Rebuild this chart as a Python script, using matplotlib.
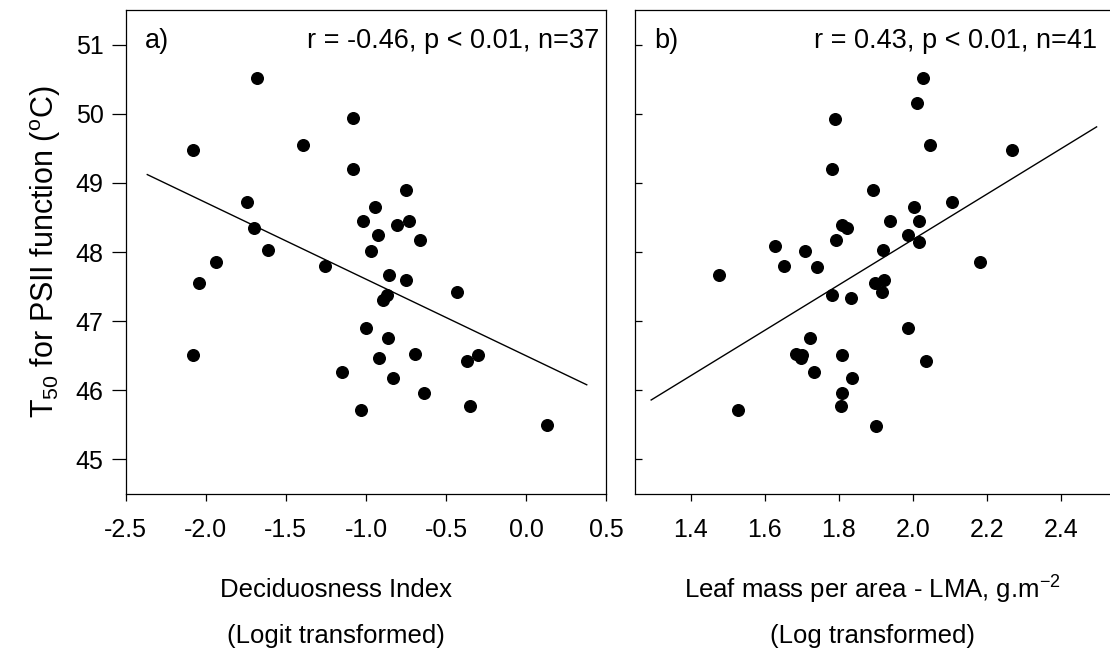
import matplotlib
matplotlib.use("Agg")
import matplotlib.pyplot as plt

plt.rcParams['font.family'] = ['Liberation Sans', 'DejaVu Sans']
plt.rcParams['axes.unicode_minus'] = False
plt.rcParams['mathtext.fontset'] = 'custom'
plt.rcParams['mathtext.rm'] = 'Liberation Sans'
plt.rcParams['mathtext.it'] = 'Liberation Sans'

# T50 for PSII function (deg C), shared by both panels
decid_x = [-1.678, -2.082, -1.083, -1.395, -1.083, -0.750, -1.741, -0.944, -1.017,
           -0.733, -0.806, -1.697, -0.927, -0.661, -1.614, -0.969, -1.934, -1.256,
           -2.042, -0.856, -0.750, -0.434, -0.871, -0.894, -2.082, -1.002, -0.865,
           -0.692, -0.921, -0.301, -0.370, -1.152, -0.831, -0.640, -0.353, -1.033,
           0.130]
decid_t50 = [50.52, 49.48, 49.94, 49.55, 49.20, 48.89, 48.73, 48.65, 48.45,
             48.45, 48.39, 48.35, 48.25, 48.18, 48.03, 48.01, 47.86, 47.80,
             47.55, 47.67, 47.59, 47.42, 47.38, 47.31, 46.51, 46.90, 46.75,
             46.53, 46.47, 46.51, 46.43, 46.26, 46.18, 45.96, 45.77, 45.72,
             45.50]

lma_x = [2.028, 2.012, 1.789, 2.047, 2.267, 1.781, 1.893, 2.105, 2.004, 1.809,
         1.822, 1.939, 2.016, 1.988, 1.792, 2.017, 1.628, 1.709, 1.920, 1.651,
         1.740, 1.477, 2.182, 1.897, 1.922, 1.916, 1.781, 1.834, 1.988, 1.723,
         1.684, 1.702, 1.698, 1.808, 2.036, 1.733, 1.837, 1.808, 1.806, 1.527,
         1.902]
lma_t50 = [50.52, 50.15, 49.93, 49.55, 49.48, 49.20, 48.89, 48.73, 48.65, 48.39,
           48.35, 48.45, 48.45, 48.25, 48.18, 48.15, 48.08, 48.01, 48.03, 47.80,
           47.78, 47.67, 47.86, 47.55, 47.59, 47.42, 47.38, 47.33, 46.90, 46.75,
           46.53, 46.51, 46.47, 46.51, 46.43, 46.26, 46.18, 45.96, 45.77, 45.72,
           45.49]

# regression line end points
decid_fit_x = [-2.365, 0.378]
decid_fit_y = [49.12, 46.08]
lma_fit_x = [1.293, 2.497]
lma_fit_y = [45.86, 49.81]

yticks = [45, 46, 47, 48, 49, 50, 51]
decid_ticks = [-2.5, -2.0, -1.5, -1.0, -0.5, 0.0, 0.5]
lma_ticks = [1.4, 1.6, 1.8, 2.0, 2.2, 2.4]

fig = plt.figure(figsize=(11.10, 6.54), dpi=100)
ax1 = fig.add_axes([0.1132, 0.2446, 0.4330, 0.7401])
ax2 = fig.add_axes([0.5723, 0.2446, 0.4333, 0.7401])

tick_fs = 18
note_fs = 19.5
lab_fs = 18.5
for ax in (ax1, ax2):
    ax.set_ylim(44.5, 51.5)
    ax.set_yticks(yticks)
    for s in ax.spines.values():
        s.set_linewidth(0.9)
    ax.tick_params(axis='x', direction='out', length=5, width=0.9,
                   labelsize=tick_fs, pad=12)

ax1.scatter(decid_x, decid_t50, s=70, color='black', zorder=3)
ax1.plot(decid_fit_x, decid_fit_y, color='black', lw=1.0)
ax1.set_xlim(-2.5, 0.5)
ax1.set_xticks(decid_ticks)
ax1.set_xticklabels(['%.1f' % v for v in decid_ticks])
ax1.tick_params(axis='y', direction='out', length=10, width=0.9,
                labelsize=tick_fs, pad=6)
ax1.set_ylabel(r'T$_{\mathregular{50}}$ for PSII function ($^{\mathregular{o}}$C)',
               fontsize=22, labelpad=9)
ax1.text(0.04, 0.936, 'a)', transform=ax1.transAxes, fontsize=note_fs,
         ha='left', va='center')
ax1.text(0.985, 0.936, 'r = -0.46, p < 0.01, n=37', transform=ax1.transAxes,
         fontsize=note_fs, ha='right', va='center')

ax2.scatter(lma_x, lma_t50, s=70, color='black', zorder=3)
ax2.plot(lma_fit_x, lma_fit_y, color='black', lw=1.0)
ax2.set_xlim(1.25, 2.55)
ax2.set_xticks(lma_ticks)
ax2.set_xticklabels(['%.1f' % v for v in lma_ticks])
ax2.tick_params(axis='y', direction='in', length=5, width=0.9,
                labelleft=False)
ax2.text(0.04, 0.936, 'b)', transform=ax2.transAxes, fontsize=note_fs,
         ha='left', va='center')
ax2.text(0.960, 0.936, 'r = 0.43, p < 0.01, n=41', transform=ax2.transAxes,
         fontsize=note_fs, ha='right', va='center')

# two-line x axis titles
ax1.text(0.438, -0.198, 'Deciduosness Index', transform=ax1.transAxes,
         fontsize=lab_fs, ha='center', va='center')
ax1.text(0.438, -0.293, '(Logit transformed)', transform=ax1.transAxes,
         fontsize=lab_fs, ha='center', va='center')
ax2.text(0.494, -0.198, r'Leaf mass per area - LMA, g.m$^{\mathregular{-2}}$',
         transform=ax2.transAxes, fontsize=lab_fs, ha='center', va='center')
ax2.text(0.494, -0.293, '(Log transformed)', transform=ax2.transAxes,
         fontsize=lab_fs, ha='center', va='center')

fig.savefig('out.png', dpi=100)
